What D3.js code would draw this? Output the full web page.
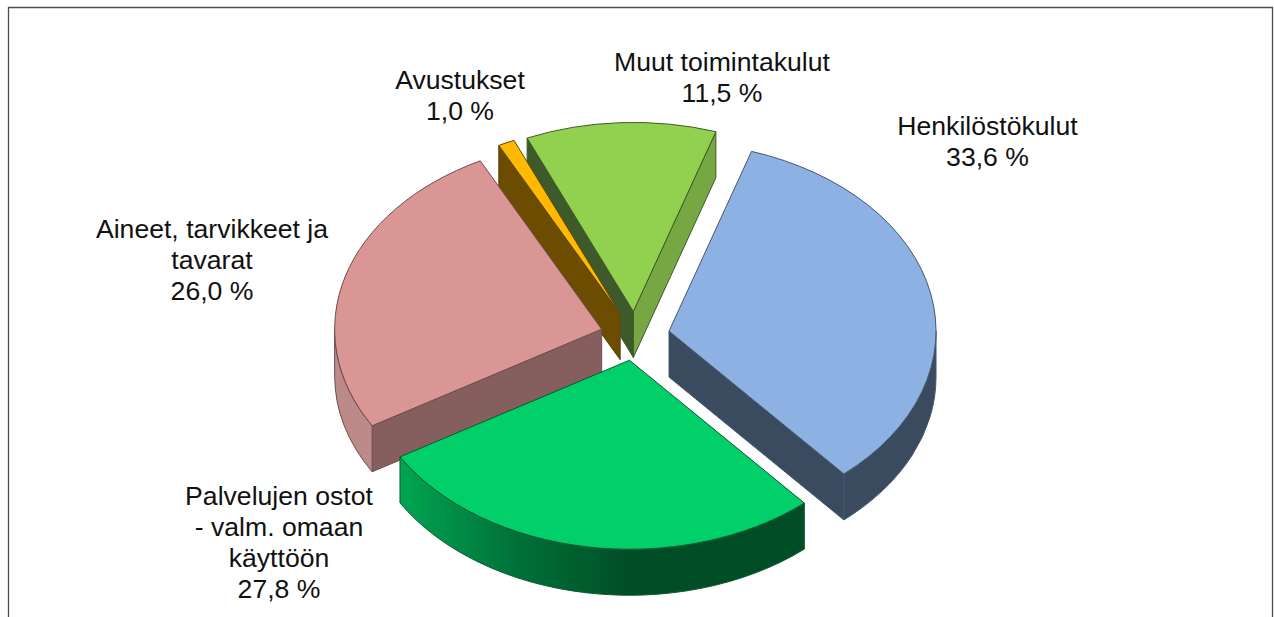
<!DOCTYPE html>
<html><head><meta charset="utf-8">
<script src="https://cdn.jsdelivr.net/npm/d3@7/dist/d3.min.js"></script>
<style>html,body{margin:0;padding:0;background:#fff;overflow:hidden}svg{display:block}</style>
</head><body><svg id="c" width="1274" height="617"></svg>
<script>
const categories = ["Henkilöstökulut","Palvelujen ostot - valm. omaan käyttöön","Aineet, tarvikkeet ja tavarat","Avustukset","Muut toimintakulut"];
const values = [33.6,27.8,26.0,1.0,11.5];
const valueLabels = ["33,6 %","27,8 %","26,0 %","1,0 %","11,5 %"];
const labelLines = [["Henkilöstökulut"],["Palvelujen ostot","- valm. omaan","käyttöön"],["Aineet, tarvikkeet ja","tavarat"],["Avustukset"],["Muut toimintakulut"]];
const topColors = ["#8eb1e3","#00cf6a","#d99694","#ffb900","#92d050"];
const wallColors = ["#3a4a5f","url(#greenWall)","#bd8a8a","#6b4c00","#77a743"];
const startFaceColors = ["#3a4a5f","#004d26","#875e5e","#6b4c00","#3f5a2a"];
const endFaceColors = ["#3a4a5f","#004d26","#875e5e","#6b4c00","#77a743"];
const strokeColors = ["#45566e","#0a5a30","#6e4c4c","#5a4510","#3d5a24"];
const drawOrder = [4,3,2,0,1];
const labelX = [987.5,279,212,460,722];
const labelY = [135,505,238,89,71];

const cx=635, cy=336, rx=267, ry=189, depth=46, explode=0.13, lh=31;
const svg=d3.select("#c");
const defs=svg.append("defs");
const g=defs.append("linearGradient").attr("id","greenWall").attr("gradientUnits","userSpaceOnUse")
  .attr("x1",400).attr("x2",804).attr("y1",0).attr("y2",0);
[[0,"#00a651"],[0.12,"#008f47"],[0.3,"#006f38"],[0.48,"#005a2c"],[0.56,"#004d26"],[1,"#004d26"]]
  .forEach(([o,c])=>g.append("stop").attr("offset",o).attr("stop-color",c));

svg.append("path").attr("d","M8.5,617V7.5H1272.5V617").attr("fill","none").attr("stroke","#4d4d4d").attr("stroke-width",1.3);

const pie=d3.pie().sort(null).startAngle(18*Math.PI/180).endAngle(378*Math.PI/180);
const arcs=pie(values);
const sx=d3.scaleLinear().domain([-1,1]).range([-rx,rx]);
const sy=d3.scaleLinear().domain([-1,1]).range([ry,-ry]);

function geom(a){
  const mid=(a.startAngle+a.endAngle)/2;
  const ox=cx+explode*sx(Math.sin(mid)), oy=cy+explode*sy(Math.cos(mid));
  const pt=(t,dz=0)=>[ox+sx(Math.sin(t)),oy+sy(Math.cos(t))+dz];
  return {ox,oy,pt};
}
function arcTo(t0,t1,pt,dz){
  const p=pt(t1,dz), large=Math.abs(t1-t0)>Math.PI?1:0, sweep=t1>t0?1:0;
  return `A${rx},${ry} 0 ${large} ${sweep} ${p[0]},${p[1]}`;
}
drawOrder.forEach(i=>{
  const a=arcs[i],{ox,oy,pt}=geom(a),s=a.startAngle,e=a.endAngle;
  const gr=svg.append("g").attr("stroke",strokeColors[i]).attr("stroke-width",1).attr("stroke-linejoin","round");
  const face=(t,fill)=>{const p=pt(t);
    gr.append("path").attr("fill",fill).attr("d",`M${ox},${oy}L${p[0]},${p[1]}V${p[1]+depth}L${ox},${oy+depth}Z`);};
  // a cut face shows only when it turns towards the viewer
  if(Math.sin(s)<0) face(s,startFaceColors[i]);
  if(Math.sin(e)>0) face(e,endFaceColors[i]);
  const w0=Math.max(s,Math.PI/2), w1=Math.min(e,1.5*Math.PI);
  if(w1>w0){
    const p=pt(w0);
    gr.append("path").attr("fill",wallColors[i])
      .attr("d",`M${p[0]},${p[1]}${arcTo(w0,w1,pt,0)}V${pt(w1)[1]+depth}${arcTo(w1,w0,pt,depth)}Z`);
  }
  const p0=pt(s);
  gr.append("path").attr("fill",topColors[i])
    .attr("d",`M${ox},${oy}L${p0[0]},${p0[1]}${arcTo(s,e,pt,0)}Z`);
});

categories.forEach((c,i)=>{
  const t=svg.append("text").attr("font-family","'Liberation Sans',Arial,sans-serif").attr("font-size",26.6)
    .attr("fill","#111").attr("text-anchor","middle");
  labelLines[i].concat([valueLabels[i]]).forEach((l,k)=>
    t.append("tspan").attr("x",labelX[i]).attr("y",labelY[i]+k*lh).text(l));
});
</script></body></html>
